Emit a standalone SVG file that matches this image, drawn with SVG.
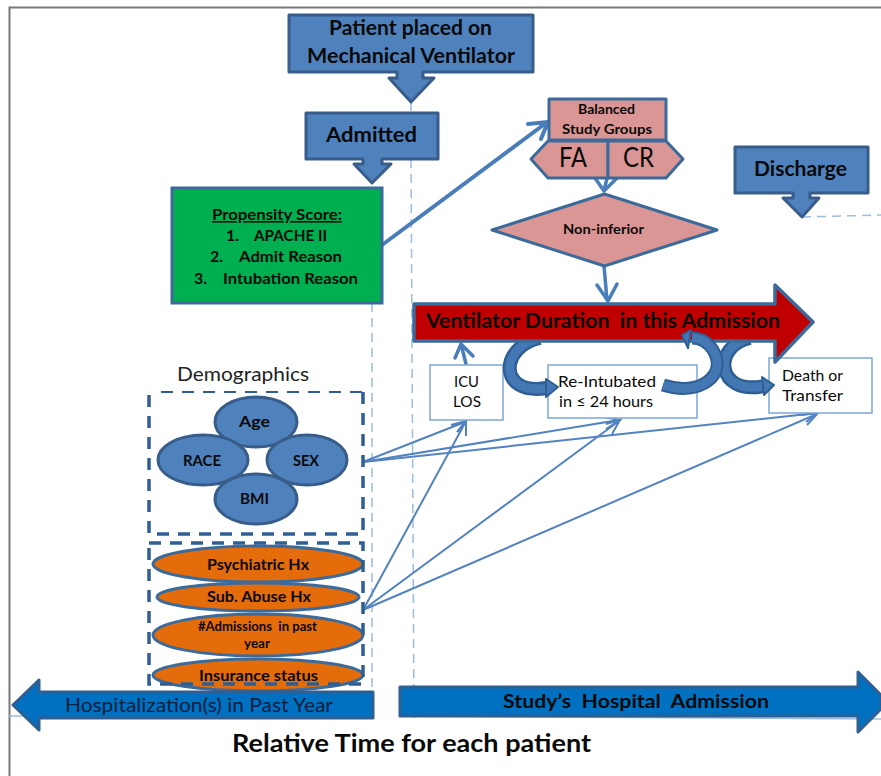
<svg xmlns="http://www.w3.org/2000/svg" width="881" height="776" viewBox="0 0 881 776">
<style>
text{font-family:"Lato","Liberation Sans",sans-serif;fill:#0a0a0a;text-anchor:start}
.b{font-weight:700}
.blue{fill:#4F81BD;stroke:#385D8A;stroke-width:3;stroke-linejoin:round}
.pink{fill:#D99694;stroke:#3B6A9B;stroke-width:3;stroke-linejoin:round}
.or{fill:#E46C0A;stroke:#3B6A9B;stroke-width:3}
.arr{fill:#0070C0;stroke:#2F5F92;stroke-width:3;stroke-linejoin:round}
.wb{fill:#fff;stroke:#7FA6D3;stroke-width:1.5}
.dash{fill:none;stroke:#9CBDE0;stroke-width:1.5;stroke-dasharray:9 6}
.dk{fill:none;stroke:#2F5F92;stroke-width:3.5;stroke-dasharray:12 9}
.dkthin{fill:none;stroke:#2F5F92;stroke-width:2;stroke-dasharray:12 9}
.thin{fill:none;stroke:#5283C0;stroke-width:2}
.mid{fill:none;stroke:#4A7EBB;stroke-width:3.5;stroke-linecap:round;stroke-linejoin:round}
.curveO{fill:none;stroke:#2F5F92;stroke-width:14}
.curveI{fill:none;stroke:#4478B5;stroke-width:9}
.head{fill:#4478B5;stroke:#2F5F92;stroke-width:2;stroke-linejoin:round}
</style>
<rect width="881" height="776" fill="#fff"/>
<g id="frame">
<path d="M881,7.500H9.500V776" fill="none" stroke="#777" stroke-width="2"/>
<path d="M9,716L373,716M400,716L881,719" fill="none" stroke="#9CBDE0" stroke-width="1.500"/>
</g>
<g id="connectors">
<path class="dash" d="M411,102L411,113M411,159L414,718"/>
<path class="dash" d="M372,303L372,690"/>
<path class="dash" d="M802,217L881,215"/>
<path class="mid" d="M382,245L546,123M528,124L548,122L541,139" style="stroke-width:4"/>
<path class="mid" d="M607,178L604,191M595,178L604,191L618,177"/>
<path class="mid" d="M604,266L607,300M597,285L608,301L617,284"/>
<path class="mid" d="M466,364L461,344M455,358L461,344L473,356"/>
<path class="thin" d="M363,462L465,422M451,425L466,421L458,432"/>
<path class="thin" d="M363,462L619,420M604,417L620,420L606,429"/>
<path class="thin" d="M363,462L817,413M803,411L818,413L806,422"/>
<path class="thin" d="M363,610L465,423M457,432L466,421L466,436"/>
<path class="thin" d="M363,610L619,421M606,424L620,420L612,434"/>
<path class="thin" d="M363,610L817,414M801,415L818,413L807,425"/>
</g>
<g id="patient">
<path class="blue" d="M289,15H533V72H423V78H434L411,102L389,78H397V72H289Z"/>
<text class="b" x="329" y="35" font-size="21" textLength="163" lengthAdjust="spacingAndGlyphs">Patient placed on</text>
<text class="b" x="307" y="63" font-size="21" textLength="208" lengthAdjust="spacingAndGlyphs">Mechanical Ventilator</text>
</g>
<g id="admitted">
<path class="blue" d="M306,113H438V159H382V164H391L372,183L354,164H363V159H306Z"/>
<text class="b" x="326" y="142" font-size="21" textLength="91" lengthAdjust="spacingAndGlyphs">Admitted</text>
</g>
<g id="propensity">
<rect x="172" y="188" width="210" height="115" fill="#00B050" stroke="#3B6A9B" stroke-width="3"/>
<text class="b" x="212" y="220" font-size="16" text-decoration="underline" textLength="130" lengthAdjust="spacingAndGlyphs">Propensity Score:</text>
<text class="b" x="226" y="241" font-size="16">1.</text>
<text class="b" x="254" y="241" font-size="16" textLength="73" lengthAdjust="spacingAndGlyphs">APACHE II</text>
<text class="b" x="210" y="262" font-size="16">2.</text>
<text class="b" x="239" y="262" font-size="16" textLength="103" lengthAdjust="spacingAndGlyphs">Admit Reason</text>
<text class="b" x="194" y="284" font-size="16">3.</text>
<text class="b" x="223" y="284" font-size="16" textLength="135" lengthAdjust="spacingAndGlyphs">Intubation Reason</text>
</g>
<g id="balanced">
<rect class="pink" x="549" y="99" width="117" height="41"/>
<text class="b" x="578" y="114" font-size="13" textLength="57" lengthAdjust="spacingAndGlyphs">Balanced</text>
<text class="b" x="562" y="134" font-size="13" textLength="90" lengthAdjust="spacingAndGlyphs">Study Groups</text>
</g>
<g id="groups">
<path class="pink" d="M548,141H608V178H548L531,159Z"/>
<path class="pink" d="M608,141H666L683,159L666,178H608Z"/>
<text x="559" y="167" font-size="27" textLength="28" lengthAdjust="spacingAndGlyphs">FA</text>
<text x="623" y="167" font-size="27" textLength="31" lengthAdjust="spacingAndGlyphs">CR</text>
</g>
<g id="noninferior">
<path class="pink" d="M604.500,194L717,230L604.500,266L492,230Z"/>
<text class="b" x="563" y="234" font-size="13" textLength="81" lengthAdjust="spacingAndGlyphs">Non-inferior</text>
</g>
<g id="discharge">
<path class="blue" d="M735,147H868V193H810V198H819L802,217L783,198H793V193H735Z"/>
<text class="b" x="754" y="176" font-size="21" textLength="93" lengthAdjust="spacingAndGlyphs">Discharge</text>
</g>
<g id="icu">
<rect class="wb" x="430" y="365" width="73" height="55"/>
<text x="454" y="387" font-size="15" textLength="25" lengthAdjust="spacingAndGlyphs">ICU</text>
<text x="453" y="407" font-size="15" textLength="28" lengthAdjust="spacingAndGlyphs">LOS</text>
</g>
<g id="reintubated">
<rect class="wb" x="548" y="365" width="149" height="53"/>
</g>
<g id="death">
<rect class="wb" x="769" y="358" width="103" height="55"/>
</g>
<g id="curved-arrows-under">
<path class="curveO" d="M540,338C500,346 497,396 547,388"/>
<path class="curveI" d="M540,338C500,346 497,396 547,388"/>
<path class="head" d="M546,379L558,387L546,397Z"/>
<path class="curveO" d="M750,338C712,346 716,396 764,386"/>
<path class="curveI" d="M750,338C712,346 716,396 764,386"/>
<path class="head" d="M762,377L774,385L764,395Z"/>
</g>
<g id="duration">
<path d="M414,304H775V285L813,322L775,362V341H414Z" fill="#C00000" stroke="#3B6A9B" stroke-width="3.500" stroke-linejoin="round"/>
<text class="b" x="426" y="328" font-size="20" textLength="354" lengthAdjust="spacingAndGlyphs" xml:space="preserve">Ventilator Duration  in this Admission</text>
</g>
<g id="curved-arrow-over">
<path class="curveO" d="M663,385C700,397 728,375 713,350C707,341 700,338 692,338" style="stroke-width:13"/>
<path class="curveI" d="M663,385C700,397 728,375 713,350C707,341 700,338 692,338" style="stroke-width:9"/>
<path class="head" d="M682,335L691,330L688,348Z"/>
</g>
<g id="box-labels">
<text x="558" y="387" font-size="15" textLength="98" lengthAdjust="spacingAndGlyphs">Re-Intubated</text>
<text x="559" y="407" font-size="15" textLength="94" lengthAdjust="spacingAndGlyphs">in ≤ 24 hours</text>
<text x="782" y="381" font-size="15" textLength="61" lengthAdjust="spacingAndGlyphs">Death or</text>
<text x="782" y="401" font-size="15" textLength="61" lengthAdjust="spacingAndGlyphs">Transfer</text>
</g>
<g id="demographics">
<text x="177" y="381" font-size="20" textLength="132" lengthAdjust="spacingAndGlyphs" style="fill:#222">Demographics</text>
<path class="dk" d="M363,392V534H149V392"/>
<path class="dkthin" d="M161,392H363"/>
<ellipse class="blue" cx="256" cy="422" rx="41" ry="25"/>
<ellipse class="blue" cx="203" cy="460" rx="45" ry="25"/>
<ellipse class="blue" cx="307" cy="460" rx="40" ry="25"/>
<ellipse class="blue" cx="256" cy="499" rx="41" ry="25"/>
<text class="b" x="239" y="427" font-size="16" textLength="31" lengthAdjust="spacingAndGlyphs">Age</text>
<text class="b" x="183" y="466" font-size="15" textLength="38" lengthAdjust="spacingAndGlyphs">RACE</text>
<text class="b" x="293" y="466" font-size="15" textLength="26" lengthAdjust="spacingAndGlyphs">SEX</text>
<text class="b" x="240" y="504" font-size="15" textLength="29" lengthAdjust="spacingAndGlyphs">BMI</text>
</g>
<g id="history">
<ellipse class="or" cx="258" cy="564" rx="105" ry="18"/>
<ellipse class="or" cx="258" cy="597" rx="101" ry="14"/>
<ellipse class="or" cx="258" cy="635" rx="105" ry="21"/>
<ellipse class="or" cx="258" cy="675" rx="105" ry="16"/>
<rect class="dk" x="149" y="543" width="214" height="141"/>
<text class="b" x="207" y="570" font-size="15" textLength="102" lengthAdjust="spacingAndGlyphs">Psychiatric Hx</text>
<text class="b" x="207" y="602" font-size="15" textLength="104" lengthAdjust="spacingAndGlyphs">Sub. Abuse Hx</text>
<text class="b" x="198" y="631" font-size="12.500" textLength="119" lengthAdjust="spacingAndGlyphs" xml:space="preserve">#Admissions  in past</text>
<text class="b" x="244" y="648" font-size="12.500" textLength="26" lengthAdjust="spacingAndGlyphs">year</text>
<text class="b" x="199" y="681" font-size="15" textLength="119" lengthAdjust="spacingAndGlyphs">Insurance status</text>
</g>
<g id="hospitalization">
<path class="arr" d="M373,692V718H39V730L13,705L39,680V692Z"/>
<text x="65" y="712" font-size="20" textLength="268" lengthAdjust="spacingAndGlyphs" style="fill:#06203f">Hospitalization(s) in Past Year</text>
</g>
<g id="study">
<path class="arr" d="M400,687H858V672L881,695V709L858,732V716H400Z"/>
<text class="b" x="503" y="708" font-size="18" textLength="266" lengthAdjust="spacingAndGlyphs" xml:space="preserve">Study’s  Hospital  Admission</text>
</g>
<g id="caption">
<text class="b" x="232" y="752" font-size="24" textLength="359" lengthAdjust="spacingAndGlyphs">Relative Time for each patient</text>
</g>
</svg>
